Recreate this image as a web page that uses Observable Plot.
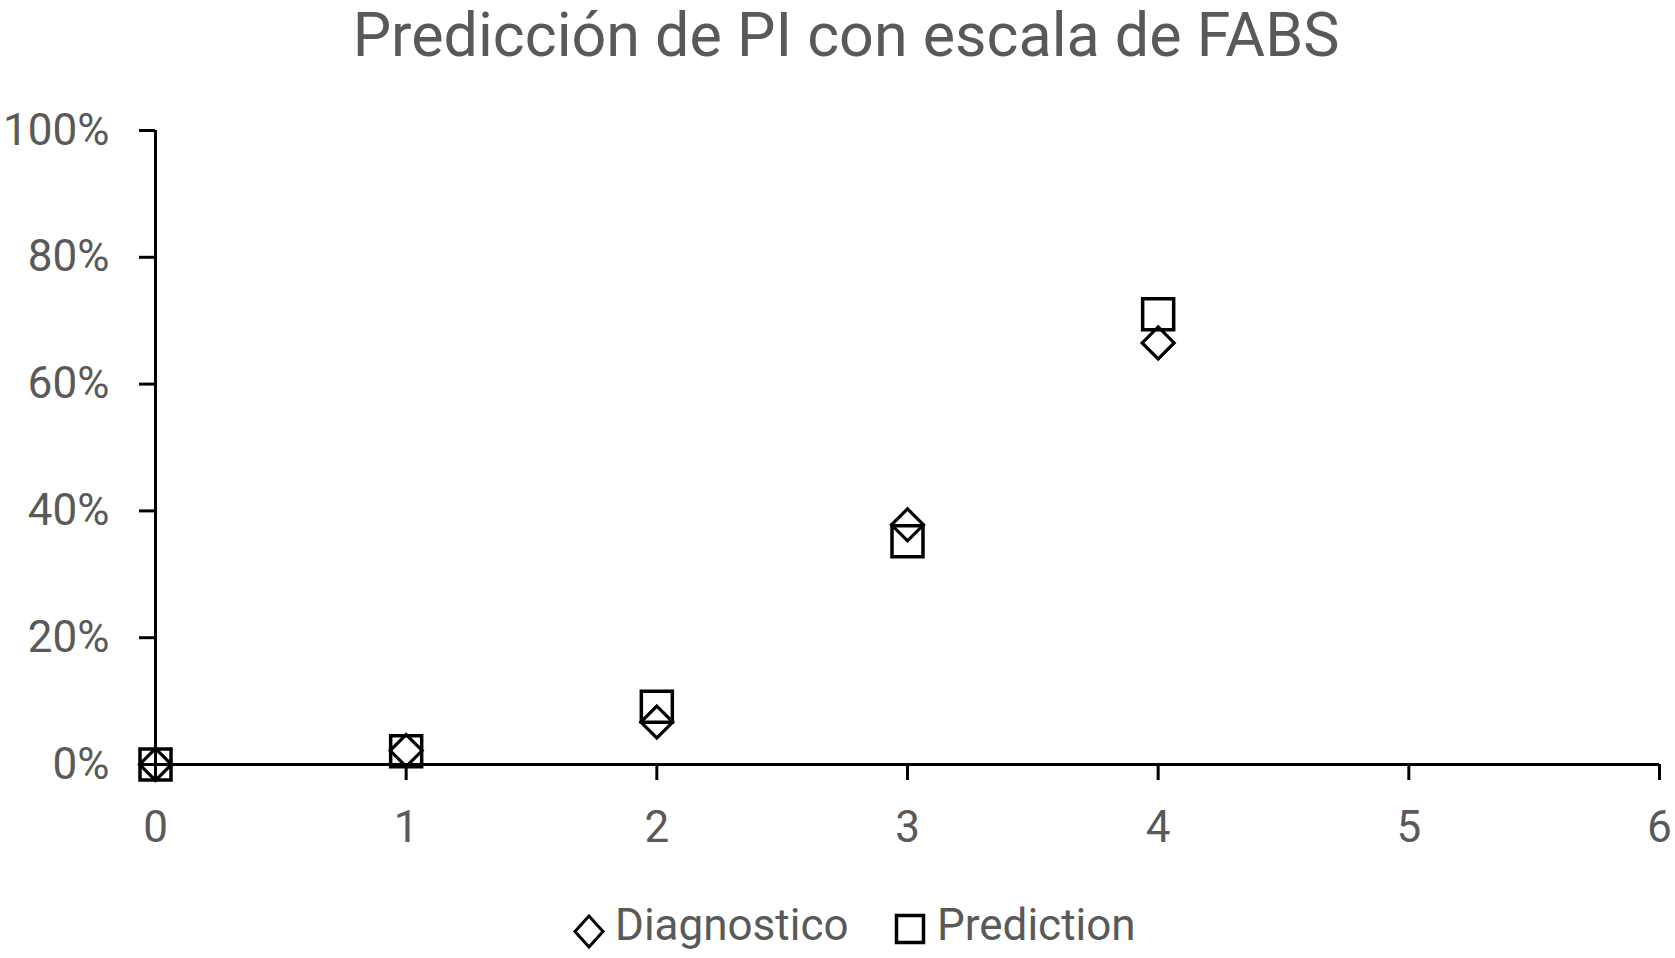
<!DOCTYPE html>
<html>
<head>
<meta charset="utf-8">
<script src="https://cdn.jsdelivr.net/npm/d3@7"></script>
<script src="https://cdn.jsdelivr.net/npm/@observablehq/plot@0.6"></script>
<style>
  html, body { margin: 0; padding: 0; background: #fff; }
  body { width: 1675px; height: 958px; position: relative; overflow: hidden; font-family: Roboto, "Open Sans", sans-serif; }
  #title { position: absolute; left: 846px; top: 5px; transform: translateX(-50%); font-size: 61px; line-height: 1; color: #595959; white-space: nowrap; }
  #chart { position: absolute; left: 0; top: 70px; }
  #chart svg text { fill: #595959; }
  .leg { position: absolute; font-size: 44px; line-height: 1; color: #595959; white-space: nowrap; }
  .legsym { position: absolute; }
</style>
</head>
<body>
<div id="title">Predicción de PI con escala de FABS</div>
<div id="chart"></div>
<svg class="legsym" style="left:571px;top:912px" width="36" height="39"><path d="M18,4 L32,19.5 L18,35 L4,19.5 Z" fill="none" stroke="#000" stroke-width="3"/></svg>
<div class="leg" style="left:615px;top:903px">Diagnostico</div>
<svg class="legsym" style="left:892px;top:911px" width="36" height="36"><rect x="4.5" y="4.5" width="27" height="27" fill="none" stroke="#000" stroke-width="3.5"/></svg>
<div class="leg" style="left:937px;top:903px">Prediction</div>
<script>
const fabsScore = [0, 1, 2, 3, 4];
const diagnostico = [0, 0.022, 0.067, 0.378, 0.665];
const prediction = [0, 0.021, 0.091, 0.352, 0.710];
const xTicks = [0, 1, 2, 3, 4, 5, 6];
const yTicks = [0, 0.2, 0.4, 0.6, 0.8, 1.0];

const rows = [
  ...fabsScore.map((x, i) => ({x, y: diagnostico[i], serie: "Diagnostico"})),
  ...fabsScore.map((x, i) => ({x, y: prediction[i], serie: "Prediction"}))
];

const chart = Plot.plot({
  width: 1675,
  height: 800,
  marginLeft: 155,
  marginRight: 16,
  marginTop: 60,
  marginBottom: 106,
  style: {fontFamily: "Roboto, 'Open Sans', sans-serif", fontSize: "44px", color: "#595959", background: "transparent"},
  x: {domain: [0, 6]},
  y: {domain: [0, 1]},
  marks: [
    Plot.axisX({ticks: xTicks, tickSize: 16, tickPadding: 30, tickFormat: d => String(d), stroke: "#000", strokeWidth: 3, label: null}),
    Plot.axisY({ticks: yTicks, tickSize: 16, tickPadding: 30, tickFormat: d3.format(".0%"), stroke: "#000", strokeWidth: 3, label: null}),
    Plot.ruleY([0], {stroke: "#000", strokeWidth: 3}),
    Plot.ruleX([0], {stroke: "#000", strokeWidth: 3}),
    Plot.dot(rows.filter(d => d.serie === "Diagnostico"), {x: "x", y: "y", symbol: "diamond2", r: 14.4, stroke: "#000", strokeWidth: 3.2, fill: "none"}),
    Plot.dot(rows.filter(d => d.serie === "Prediction"), {x: "x", y: "y", symbol: "square", r: 17.5, stroke: "#000", strokeWidth: 3.5, fill: "none"})
  ]
});
document.getElementById("chart").appendChild(chart);
</script>
</body>
</html>
